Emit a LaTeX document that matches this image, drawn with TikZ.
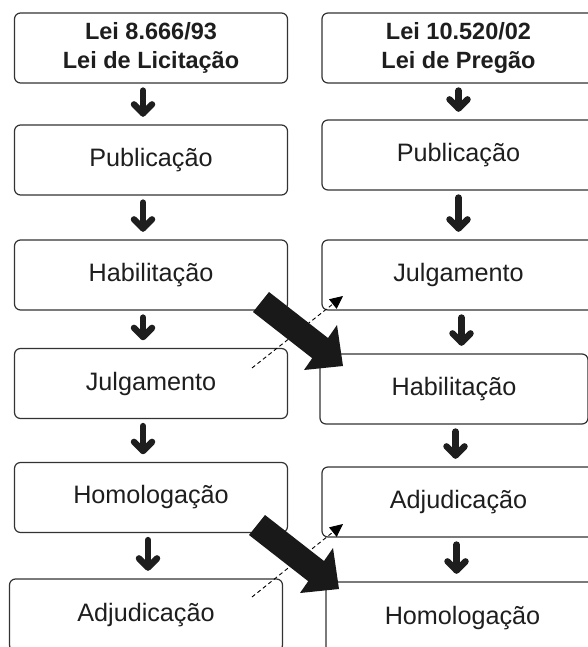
\documentclass[tikz,border=0pt]{standalone}
\usepackage{fontspec}
\setmainfont{Liberation Sans}
\usetikzlibrary{arrows.meta,calc}
\definecolor{boxc}{HTML}{333333}
\definecolor{txt}{HTML}{1e1e1e}
\begin{document}
\begin{tikzpicture}[x=1pt,y=-1pt,
  box/.style={draw=boxc, line width=1.2pt, rounded corners=6pt, minimum height=70pt,
    inner sep=0pt, text=txt, font=\fontsize{25.2}{29}\selectfont},
  lbox/.style={box, minimum width=273pt},
  rbox/.style={box, minimum width=273pt},
  head/.style={box, align=center, font=\fontsize{23.5}{29}\selectfont\bfseries},
  stem/.style={line width=6.5pt, line cap=round, line join=round, txt},
  bigarrow/.style={fill=black!90, draw=none},
  dasharrow/.style={dashed, dash pattern=on 4pt off 3pt, line width=0.9pt, black,
    -{Triangle[length=13pt,width=12pt]}}]
\useasboundingbox (0,0) rectangle (588,647);
\clip (0,0) rectangle (588,647);
\fill[white] (0,0) rectangle (588,647);

% left column
\node[lbox, head] (l0) at (151,48) {Lei 8.666/93\\Lei de Licitação};
\node[lbox] (l1) at (151,160) {Publicação};
\node[lbox] (l2) at (151,275) {Habilitação};
\node[lbox] (l3) at (151,383.5) {Julgamento};
\node[lbox] (l4) at (151,497.5) {Homologação};
\node[lbox, minimum height=72pt] (l5) at (146,615) {Adjudicação};

% right column
\node[rbox, head] (r0) at (458.5,48) {Lei 10.520/02\\Lei de Pregão};
\node[rbox] (r1) at (458.5,155) {Publicação};
\node[rbox] (r2) at (458.5,275) {Julgamento};
\node[box, minimum width=268pt] (r3) at (454,389) {Habilitação};
\node[rbox] (r4) at (458.5,502) {Adjudicação};
\node[box, minimum width=273pt, minimum height=72pt] (r5) at (462.5,618) {Homologação};

% small down arrows
\foreach \a/\b/\dx in {l0/l1/-8, l1/l2/-8, l2/l3/-8, l3/l4/-8, l4/l5/-3,
                       r0/r1/0, r1/r2/0, r2/r3/3, r3/r4/1.5, r4/r5/-2}{
  \coordinate (s) at ($(\a.south)+(\dx,7)$);
  \coordinate (t) at ($(\b.north -| s)+(0,-11)$);
  \draw[stem] (s) -- (t);
  \draw[stem] ($(t)+(-9,-9)$) -- (t) -- ($(t)+(9,-9)$);
}

% dashed arrows
\coordinate (d1s) at (252,368); \coordinate (d1e) at (343,296);
\coordinate (d2s) at (252,597); \coordinate (d2e) at (343,524);
\draw[dasharrow] (d1s) -- (d1e);
\draw[dasharrow] (d2s) -- (d2e);

% big arrows
\fill[bigarrow] (269,292) -- (328,338) -- (337,325) -- (343,366) -- (304,370) -- (312.2,358.2) -- (253,312) -- cycle;
\begin{scope}[shift={(-4,223)}]
\fill[bigarrow] (269,292) -- (328,338) -- (337,325) -- (343,366) -- (304,370) -- (312.2,358.2) -- (253,312) -- cycle;
\end{scope}
\end{tikzpicture}
\end{document}
